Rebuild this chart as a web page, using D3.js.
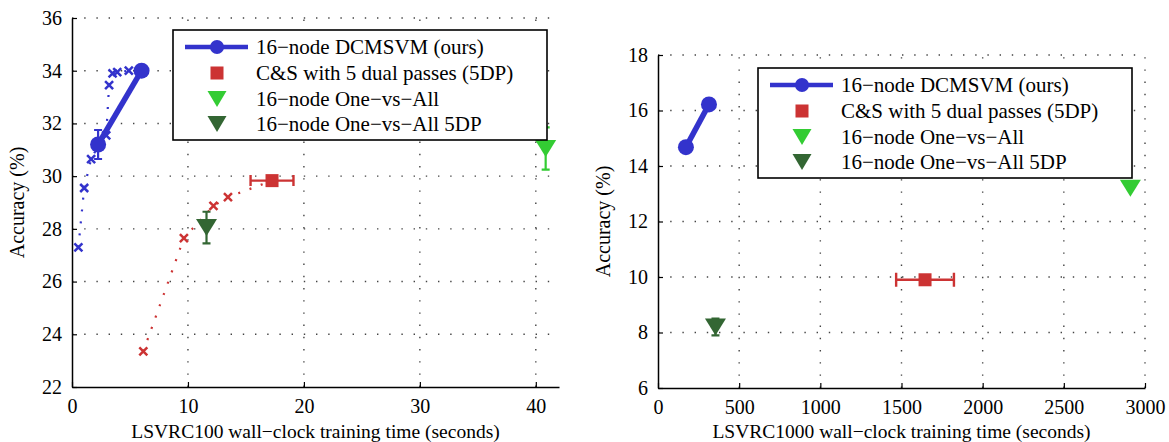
<!DOCTYPE html>
<html>
<head>
<meta charset="utf-8">
<script src="https://cdn.jsdelivr.net/npm/d3@7"></script>
<style>
    body { margin: 0; background: #fff; }
    text { font-family: 'Liberation Serif', 'Times New Roman', serif; fill: #000; }
</style>
</head>
<body>
<div id="chartContainer"></div>
<script>
// ---- data ----
const legendLabels = [
    '16\u2212node DCMSVM (ours)',
    'C&S with 5 dual passes (5DP)',
    '16\u2212node One\u2212vs\u2212All',
    '16\u2212node One\u2212vs\u2212All 5DP',
];

// LSVRC100 panel
const lsvrc100Ticks = { x: [0, 10, 20, 30, 40], y: [22, 24, 26, 28, 30, 32, 34, 36] };
const lsvrc100DcmTime = [2.25, 6.0];
const lsvrc100DcmAcc = [31.2, 34.0];
const lsvrc100DcmErr = [0.55, 0];
const lsvrc100DcmTraceTime = [0.55, 1.05, 1.65, 2.25, 2.95, 3.2, 3.5, 3.9, 4.9, 6.0];
const lsvrc100DcmTraceAcc = [27.3, 29.55, 30.65, 31.15, 31.55, 33.45, 33.9, 33.95, 34.0, 34.0];
const lsvrc100CsTime = [17.25];
const lsvrc100CsAcc = [29.83];
const lsvrc100CsErr = [1.85];
const lsvrc100CsTraceTime = [6.15, 9.65, 12.2, 13.45, 17.25];
const lsvrc100CsTraceAcc = [23.35, 27.65, 28.87, 29.2, 29.83];
const lsvrc100OvaTime = [40.85];
const lsvrc100OvaAcc = [31.05];
const lsvrc100OvaErr = [0.8];
const lsvrc100Ova5Time = [11.6];
const lsvrc100Ova5Acc = [28.05];
const lsvrc100Ova5Err = [0.6];

// LSVRC1000 panel
const lsvrc1000Ticks = { x: [0, 500, 1000, 1500, 2000, 2500, 3000], y: [6, 8, 10, 12, 14, 16, 18] };
const lsvrc1000DcmTime = [172, 314];
const lsvrc1000DcmAcc = [14.68, 16.22];
const lsvrc1000CsTime = [1645];
const lsvrc1000CsAcc = [9.9];
const lsvrc1000CsErr = [178];
const lsvrc1000OvaTime = [2910];
const lsvrc1000OvaAcc = [13.2];
const lsvrc1000Ova5Time = [354];
const lsvrc1000Ova5Acc = [8.2];
const lsvrc1000Ova5Err = [0.3];

const colors = { blue: '#3333cc', red: '#cc3333', green: '#33cc33', darkGreen: '#336633' };

const svgWidth = 1169;
const svgHeight = 442;

const svg = d3.select('#chartContainer').append('svg')
    .attr('width', svgWidth).attr('height', svgHeight);

const zip = (xs, ys) => xs.map((x, i) => [x, ys[i]]);
const triPath = (w, h) => `M${-w / 2},${-h / 2}L${w / 2},${-h / 2}L0,${h / 2}Z`;

function drawPanel(p) {
    const xScale = d3.scaleLinear().domain(p.xDomain).range(p.xRange);
    const yScale = d3.scaleLinear().domain(p.yDomain).range(p.yRange);
    const g = svg.append('g');

    // dotted grid
    g.selectAll('.vgrid').data(p.ticks.x.slice(1)).enter().append('line')
        .attr('x1', (d) => xScale(d)).attr('x2', (d) => xScale(d))
        .attr('y1', p.yRange[0]).attr('y2', p.yRange[1])
        .attr('stroke', '#444').attr('stroke-width', 1.4)
        .attr('stroke-dasharray', '1.4,10.8');
    g.selectAll('.hgrid').data(p.ticks.y.slice(1)).enter().append('line')
        .attr('y1', (d) => yScale(d)).attr('y2', (d) => yScale(d))
        .attr('x1', p.xRange[0]).attr('x2', p.xRange[1])
        .attr('stroke', '#444').attr('stroke-width', 1.4)
        .attr('stroke-dasharray', '1.4,10.8');

    // axes, ticks pointing inward
    const xAxis = d3.axisBottom(xScale).tickValues(p.ticks.x).tickFormat(d3.format('d'))
        .tickSizeInner(-5).tickSizeOuter(0).tickPadding(12);
    const yAxis = d3.axisLeft(yScale).tickValues(p.ticks.y).tickFormat(d3.format('d'))
        .tickSizeInner(-5).tickSizeOuter(0).tickPadding(10);
    const xg = g.append('g').attr('transform', `translate(0, ${p.yRange[0]})`).call(xAxis);
    const yg = g.append('g').attr('transform', `translate(${p.xRange[0]}, 0)`).call(yAxis);
    [xg, yg].forEach((a) => {
        a.select('.domain').attr('stroke-width', 1.5);
        a.selectAll('.tick line').attr('stroke-width', 1.2);
        a.selectAll('text').style('font-family', "'Liberation Serif', serif").style('font-size', '20px');
    });

    g.append('text')
        .attr('x', (p.xRange[0] + p.xRange[1]) / 2)
        .attr('y', 438)
        .attr('text-anchor', 'middle')
        .style('font-size', '19.5px')
        .text(p.xTitle);
    g.append('text')
        .attr('transform', `translate(${p.yTitleX}, ${(p.yRange[0] + p.yRange[1]) / 2}) rotate(-90)`)
        .attr('text-anchor', 'middle')
        .style('font-size', '20px')
        .text('Accuracy (%)');

    const line = d3.line().x((d) => xScale(d[0])).y((d) => yScale(d[1]));

    // dotted traces with x markers
    (p.traces || []).forEach((t) => {
        const pts = zip(t.x, t.y);
        g.append('path').attr('d', line(pts)).attr('fill', 'none')
            .attr('stroke', t.color).attr('stroke-width', 2.2)
            .attr('stroke-dasharray', '2,10');
        g.selectAll(null).data(pts.slice(0, t.marks)).enter().append('path')
            .attr('transform', (d) => `translate(${xScale(d[0])},${yScale(d[1])})`)
            .attr('d', 'M-4,-4L4,4M-4,4L4,-4')
            .attr('stroke', t.color).attr('stroke-width', 2.5);
    });

    // error bars
    (p.vErr || []).forEach((e) => {
        e.x.forEach((x, i) => {
            if (!e.err[i]) return;
            const cx = xScale(x), y0 = yScale(e.y[i] - e.err[i]), y1 = yScale(e.y[i] + e.err[i]);
            g.append('path')
                .attr('d', `M${cx},${y0}L${cx},${y1}M${cx - 4},${y0}L${cx + 4},${y0}M${cx - 4},${y1}L${cx + 4},${y1}`)
                .attr('stroke', e.color).attr('stroke-width', 2.2).attr('fill', 'none');
        });
    });
    (p.hErr || []).forEach((e) => {
        e.x.forEach((x, i) => {
            const cy = yScale(e.y[i]), x0 = xScale(x - e.err[i]), x1 = xScale(x + e.err[i]);
            g.append('path')
                .attr('d', `M${x0},${cy}L${x1},${cy}M${x0},${cy - e.cap}L${x0},${cy + e.cap}M${x1},${cy - e.cap}L${x1},${cy + e.cap}`)
                .attr('stroke', e.color).attr('stroke-width', 2.4).attr('fill', 'none');
        });
    });

    // DCMSVM thick line with circles
    const dcm = zip(p.dcm.x, p.dcm.y);
    g.append('path').attr('d', line(dcm)).attr('fill', 'none')
        .attr('stroke', colors.blue).attr('stroke-width', 5.5);
    g.selectAll(null).data(dcm).enter().append('circle')
        .attr('cx', (d) => xScale(d[0])).attr('cy', (d) => yScale(d[1]))
        .attr('r', 8).attr('fill', colors.blue);

    // C&S square
    g.selectAll(null).data(zip(p.cs.x, p.cs.y)).enter().append('rect')
        .attr('x', (d) => xScale(d[0]) - 6.5).attr('y', (d) => yScale(d[1]) - 6.5)
        .attr('width', 13).attr('height', 13).attr('fill', colors.red);

    // one-vs-all triangles
    [[p.ova, colors.green], [p.ova5, colors.darkGreen]].forEach(([s, c]) => {
        g.selectAll(null).data(zip(s.x, s.y)).enter().append('path')
            .attr('transform', (d) => `translate(${xScale(d[0])},${yScale(d[1])})`)
            .attr('d', triPath(21, 17)).attr('fill', c);
    });

    // legend
    const lg = g.append('g').attr('transform', `translate(${p.legend.x}, ${p.legend.y})`);
    lg.append('rect').attr('width', 374).attr('height', 110)
        .attr('fill', '#fff').attr('stroke', '#000').attr('stroke-width', 1.6);
    const rowY = [17, 43, 69, 94];
    lg.append('line').attr('x1', 12).attr('x2', 75).attr('y1', rowY[0]).attr('y2', rowY[0])
        .attr('stroke', colors.blue).attr('stroke-width', 4.5);
    lg.append('circle').attr('cx', 44).attr('cy', rowY[0]).attr('r', 7).attr('fill', colors.blue);
    lg.append('rect').attr('x', 37.5).attr('y', rowY[1] - 6.5).attr('width', 13).attr('height', 13).attr('fill', colors.red);
    lg.append('path').attr('transform', `translate(44, ${rowY[2]})`).attr('d', triPath(19, 16)).attr('fill', colors.green);
    lg.append('path').attr('transform', `translate(44, ${rowY[3]})`).attr('d', triPath(19, 16)).attr('fill', colors.darkGreen);
    lg.selectAll(null).data(legendLabels).enter().append('text')
        .attr('x', 83).attr('y', (d, i) => rowY[i]).attr('dy', '0.35em')
        .style('font-size', '21px').text((d) => d);
}

drawPanel({
    xDomain: [0, 42], yDomain: [22, 36],
    xRange: [72, 559], yRange: [387, 18],
    ticks: lsvrc100Ticks,
    xTitle: 'LSVRC100 wall\u2212clock training time (seconds)',
    yTitleX: 24,
    traces: [
        { x: lsvrc100DcmTraceTime, y: lsvrc100DcmTraceAcc, color: colors.blue, marks: 9 },
        { x: lsvrc100CsTraceTime, y: lsvrc100CsTraceAcc, color: colors.red, marks: 4 },
    ],
    vErr: [
        { x: lsvrc100DcmTime, y: lsvrc100DcmAcc, err: lsvrc100DcmErr, color: colors.blue },
        { x: lsvrc100OvaTime, y: lsvrc100OvaAcc, err: lsvrc100OvaErr, color: colors.green },
        { x: lsvrc100Ova5Time, y: lsvrc100Ova5Acc, err: lsvrc100Ova5Err, color: colors.darkGreen },
    ],
    hErr: [{ x: lsvrc100CsTime, y: lsvrc100CsAcc, err: lsvrc100CsErr, color: colors.red, cap: 5.5 }],
    dcm: { x: lsvrc100DcmTime, y: lsvrc100DcmAcc },
    cs: { x: lsvrc100CsTime, y: lsvrc100CsAcc },
    ova: { x: lsvrc100OvaTime, y: lsvrc100OvaAcc },
    ova5: { x: lsvrc100Ova5Time, y: lsvrc100Ova5Acc },
    legend: { x: 173, y: 30 },
});

drawPanel({
    xDomain: [0, 3000], yDomain: [6, 18],
    xRange: [658, 1145], yRange: [388, 55],
    ticks: lsvrc1000Ticks,
    xTitle: 'LSVRC1000 wall\u2212clock training time (seconds)',
    yTitleX: 610,
    vErr: [{ x: lsvrc1000Ova5Time, y: lsvrc1000Ova5Acc, err: lsvrc1000Ova5Err, color: colors.darkGreen }],
    hErr: [{ x: lsvrc1000CsTime, y: lsvrc1000CsAcc, err: lsvrc1000CsErr, color: colors.red, cap: 7 }],
    dcm: { x: lsvrc1000DcmTime, y: lsvrc1000DcmAcc },
    cs: { x: lsvrc1000CsTime, y: lsvrc1000CsAcc },
    ova: { x: lsvrc1000OvaTime, y: lsvrc1000OvaAcc },
    ova5: { x: lsvrc1000Ova5Time, y: lsvrc1000Ova5Acc },
    legend: { x: 758, y: 68 },
});
</script>
</body>
</html>
